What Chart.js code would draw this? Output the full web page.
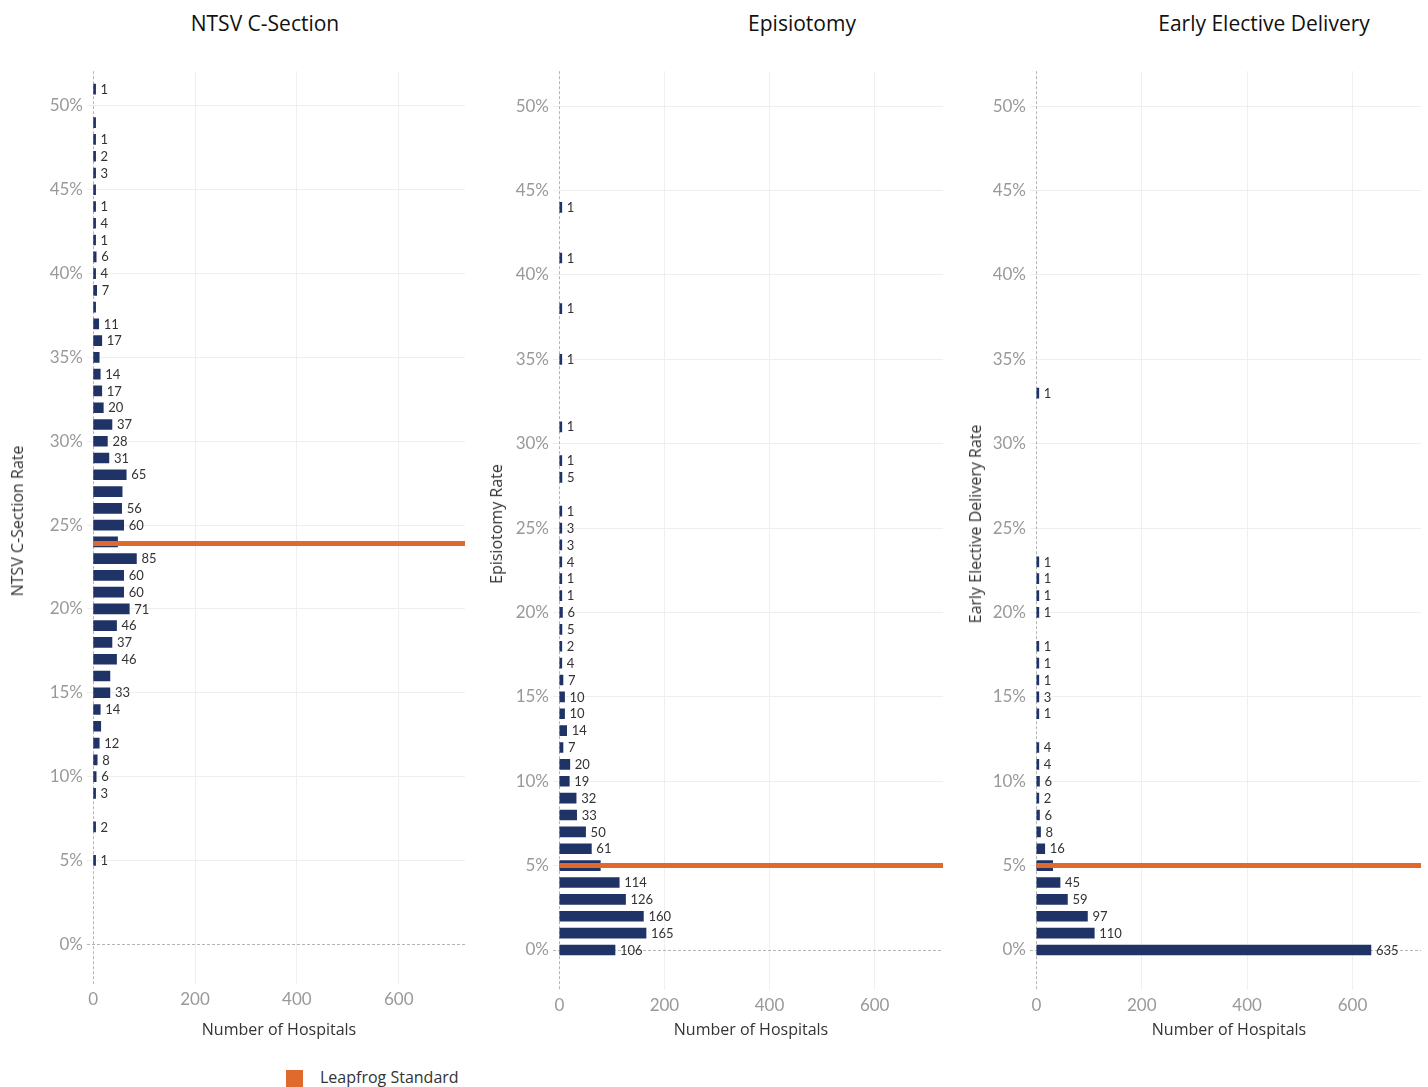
<!DOCTYPE html>
<html>
<head>
<meta charset="utf-8">
<title>Leapfrog measures</title>
<script src="https://cdn.jsdelivr.net/npm/chart.js@4.4.1/dist/chart.umd.min.js"></script>
<style>
    body { margin: 0; width: 1428px; height: 1087px; background: #fff; position: relative; overflow: hidden; font-family: "Open Sans", sans-serif; }
    .box { position: absolute; }
    .title { position: absolute; top: 9px; font-size: 21px; color: #111; transform: translateX(-50%); white-space: nowrap; }
    .xt { position: absolute; top: 1018px; font-size: 16px; color: #333; transform: translateX(-50%); white-space: nowrap; }
    .yt { position: absolute; font-size: 16px; color: #333; transform: translate(-50%, -50%) rotate(-90deg); white-space: nowrap; }
    .legend { position: absolute; left: 286px; top: 1066px; font-size: 16px; color: #333; white-space: nowrap; }
    .legend span { display: inline-block; width: 17px; height: 17px; background: #e06a2e; vertical-align: middle; margin-right: 17px; }
</style>
</head>
<body>

<div class="box" id="b1" style="left:27px;top:57px;width:443px;height:967px"><canvas id="c1"></canvas></div>
<div class="box" id="b2" style="left:493px;top:57px;width:455px;height:973px"><canvas id="c2"></canvas></div>
<div class="box" id="b3" style="left:970px;top:57px;width:456px;height:973px"><canvas id="c3"></canvas></div>

<div class="title" style="left:265px">NTSV C-Section</div>
<div class="title" style="left:802px">Episiotomy</div>
<div class="title" style="left:1264px">Early Elective Delivery</div>

<div class="xt" style="left:279px">Number of Hospitals</div>
<div class="xt" style="left:751px">Number of Hospitals</div>
<div class="xt" style="left:1229px">Number of Hospitals</div>

<div class="yt" style="left:17px;top:521px">NTSV C-Section Rate</div>
<div class="yt" style="left:496px;top:524px">Episiotomy Rate</div>
<div class="yt" style="left:975px;top:524px">Early Elective Delivery Rate</div>

<div class="legend"><span></span>Leapfrog Standard</div>

<script>
"use strict";

// NTSV C-Section
const csRates = [51, 49, 48, 47, 46, 45, 44, 43, 42, 41, 40, 39, 38, 37, 36, 35, 34, 33, 32, 31, 30, 29, 28, 27, 26, 25, 24, 23, 22, 21, 20, 19, 18, 17, 16, 15, 14, 13, 12, 11, 10, 9, 7, 5];
const csCounts = [1, 1, 1, 2, 3, 1, 1, 4, 1, 6, 4, 7, 3, 11, 17, 12, 14, 17, 20, 37, 28, 31, 65, 57, 56, 60, 48, 85, 60, 60, 71, 46, 37, 46, 33, 33, 14, 15, 12, 8, 6, 3, 2, 1];
const csNoLabel = [49, 45, 38, 35, 27, 24, 16, 13];
const csStandard = 23.9;

// Episiotomy
const epRates = [44, 41, 38, 35, 31, 29, 28, 26, 25, 24, 23, 22, 21, 20, 19, 18, 17, 16, 15, 14, 13, 12, 11, 10, 9, 8, 7, 6, 5, 4, 3, 2, 1, 0];
const epCounts = [1, 1, 1, 1, 1, 1, 5, 1, 3, 3, 4, 1, 1, 6, 5, 2, 4, 7, 10, 10, 14, 7, 20, 19, 32, 33, 50, 61, 78, 114, 126, 160, 165, 106];
const epNoLabel = [5];
const epStandard = 5;

// Early Elective Delivery
const eedRates = [33, 23, 22, 21, 20, 18, 17, 16, 15, 14, 12, 11, 10, 9, 8, 7, 6, 5, 4, 3, 2, 1, 0];
const eedCounts = [1, 1, 1, 1, 1, 1, 1, 1, 3, 1, 4, 4, 6, 2, 6, 8, 16, 31, 45, 59, 97, 110, 635];
const eedNoLabel = [5];
const eedStandard = 5;

const rateMin = -2.37;
const rateMax = 52.07;
const countMin = -12;
const countMax = 730;

const barColor = "#1f3366";
const lineColor = "#e06a2e";

const barLabels = {
    id: "barLabels",
    afterDatasetsDraw(chart, args, opts) {
        const ds = chart.data.datasets.find((d) => d.type === "bar");
        const meta = chart.getDatasetMeta(chart.data.datasets.indexOf(ds));
        const c = chart.ctx;
        c.save();
        c.font = "13px Lato";
        c.fillStyle = "#333";
        c.textBaseline = "middle";
        meta.data.forEach((bar, i) => {
            const p = ds.data[i];
            if (opts.hide.includes(p.y)) return;
            c.fillText(p.x, bar.x + 5, bar.y + 0.5);
        });
        c.restore();
    }
};

const zeroLines = {
    id: "zeroLines",
    beforeDatasetsDraw(chart) {
        const { ctx: c, chartArea: a, scales } = chart;
        const x0 = Math.round(scales.x.getPixelForValue(0)) + 0.5;
        const y0 = Math.round(scales.y.getPixelForValue(0)) + 0.5;
        c.save();
        c.strokeStyle = "#b5b5b5";
        c.lineWidth = 1;
        c.setLineDash([3, 2]);
        c.beginPath();
        c.moveTo(x0, a.top);
        c.lineTo(x0, a.bottom);
        c.moveTo(a.left, y0);
        c.lineTo(a.right, y0);
        c.stroke();
        c.restore();
    }
};

function makePanel(id, rates, counts, standard, noLabel) {
    const bars = rates.map((r, i) => ({ x: counts[i], y: r }));
    return new Chart(document.getElementById(id), {
        data: {
            datasets: [
                {
                    type: "line",
                    label: "Leapfrog Standard",
                    data: [{ x: 0, y: standard }, { x: countMax, y: standard }],
                    borderColor: lineColor,
                    borderWidth: 5,
                    pointRadius: 0,
                    order: 0
                },
                {
                    type: "bar",
                    label: "Hospitals",
                    data: bars,
                    backgroundColor: barColor,
                    barThickness: 10,
                    minBarLength: 2.5,
                    indexAxis: "y",
                    order: 1
                }
            ]
        },
        options: {
            responsive: true,
            maintainAspectRatio: false,
            animation: false,
            layout: { padding: { top: 10, right: 5, left: 0, bottom: 0 } },
            plugins: {
                legend: { display: false },
                tooltip: { enabled: false },
                barLabels: { hide: noLabel }
            },
            scales: {
                x: {
                    type: "linear",
                    min: countMin,
                    max: countMax,
                    offset: false,
                    border: { display: false },
                    grid: {
                        drawTicks: false,
                        offset: false,
                        color: (ctx) => (ctx.tick && ctx.tick.value === 0 ? "transparent" : "#efefef")
                    },
                    ticks: {
                        stepSize: 200,
                        includeBounds: false,
                        padding: 5,
                        color: "#999",
                        font: { family: "Lato", size: 17 }
                    },
                    afterFit: (s) => { s.height = 40; }
                },
                y: {
                    type: "linear",
                    min: rateMin,
                    max: rateMax,
                    offset: false,
                    border: { display: false },
                    grid: {
                        drawTicks: false,
                        offset: false,
                        color: (ctx) => (ctx.tick && ctx.tick.value === 0 ? "transparent" : "#efefef")
                    },
                    ticks: {
                        stepSize: 5,
                        includeBounds: false,
                        padding: 4,
                        color: "#999",
                        font: { family: "Lato", size: 17 },
                        callback: (v) => v + "%"
                    },
                    afterFit: (s) => { s.width = 60; }
                }
            }
        },
        plugins: [zeroLines, barLabels]
    });
}

makePanel("c1", csRates, csCounts, csStandard, csNoLabel);
makePanel("c2", epRates, epCounts, epStandard, epNoLabel);
makePanel("c3", eedRates, eedCounts, eedStandard, eedNoLabel);
</script>
</body>
</html>
